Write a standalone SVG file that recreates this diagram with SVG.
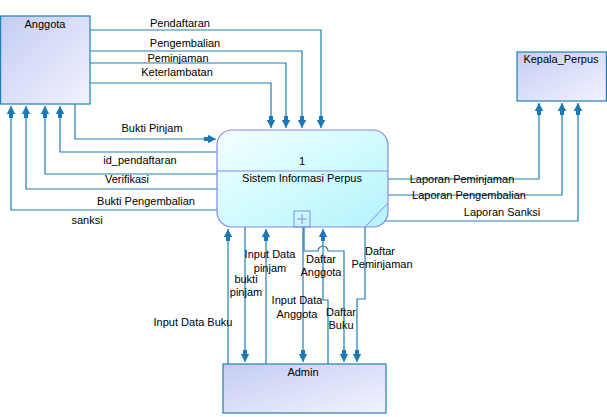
<svg xmlns="http://www.w3.org/2000/svg" width="607" height="417" viewBox="0 0 607 417">
<defs>
<linearGradient id="ent" x1="0" y1="0" x2="1" y2="1">
<stop offset="0" stop-color="#c4ccf2"/>
<stop offset="1" stop-color="#f2f3ff"/>
</linearGradient>
<linearGradient id="proc" x1="0" y1="0" x2="1" y2="1">
<stop offset="0" stop-color="#f4feff"/>
<stop offset="0.5" stop-color="#d2fbff"/>
<stop offset="1" stop-color="#b4f3fb"/>
</linearGradient>
<marker id="arr" viewBox="0 -5 12 10" refX="12" refY="0" markerWidth="12" markerHeight="10" markerUnits="userSpaceOnUse" orient="auto">
<path d="M0,-2 L4,-2 L4,-4.2 L12,0 L4,4.2 L4,2 L0,2 Z" fill="#1a78b4"/>
</marker>
</defs>
<style>
.ent{fill:url(#ent);stroke:#1f80b4;stroke-width:1.2}
.c{fill:none;stroke:#1f7fb2;stroke-width:1.2}
.a{marker-end:url(#arr)}
text{font-family:"Liberation Sans",Arial,sans-serif;font-size:11px;fill:#000;text-anchor:middle}
</style>
<rect width="607" height="417" fill="#fff"/>
<g id="connectors">
<path class="c a" d="M90,30 H321 V128"/>
<path class="c a" d="M90,51 H302 V128"/>
<path class="c a" d="M90,63 H286 V128"/>
<path class="c a" d="M90,83 H271 V128"/>
<path class="c a" d="M75,104 V139 H216"/>
<path class="c a" d="M217,152 H60 V106"/>
<path class="c a" d="M217,174 H45 V106"/>
<path class="c a" d="M217,189 H26 V106"/>
<path class="c a" d="M217,210 H11 V106"/>
<path class="c a" d="M388,179 H539 V103"/>
<path class="c a" d="M388,195 H562 V103"/>
<path class="c a" d="M385,221 H578 V103"/>
<path class="c a" d="M228,364 V229"/>
<path class="c a" d="M245,227 V362"/>
<path class="c a" d="M266,364 V229"/>
<path class="c a" d="M303,227 V362"/>
<path class="c a" d="M328,364 V300 H323 V229"/>
<path class="c a" d="M304,227 V251 H318 A5,5 0 0 1 328,251 H344 V362"/>
<path class="c a" d="M365,227 V299 H357 V362"/>
<text x="180" y="27">Pendaftaran</text>
<text x="185" y="47">Pengembalian</text>
<text x="178" y="62">Peminjaman</text>
<text x="177" y="76">Keterlambatan</text>
<text x="152" y="132">Bukti Pinjam</text>
<text x="140" y="164">id_pendaftaran</text>
<text x="127" y="183">Verifikasi</text>
<text x="146" y="205">Bukti Pengembalian</text>
<text x="87" y="224">sanksi</text>
<text x="462" y="183">Laporan Peminjaman</text>
<text x="469" y="199">Laporan Pengembalian</text>
<text x="502" y="216">Laporan Sanksi</text>
<text x="193" y="326">Input Data Buku</text>
<text x="246" y="283">bukti</text>
<text x="246" y="296">pinjam</text>
<text x="270" y="258">Input Data</text>
<text x="270" y="272">pinjam</text>
<text x="321" y="263">Daftar</text>
<text x="321" y="276">Anggota</text>
<text x="297" y="304">Input Data</text>
<text x="297" y="318">Anggota</text>
<text x="341" y="316">Daftar</text>
<text x="341" y="329">Buku</text>
<text x="380" y="255">Daftar</text>
<text x="382" y="268">Peminjaman</text>
</g>
<g id="anggota">
<rect class="ent" x="0.6" y="16" width="89.4" height="88"/>
<text x="45" y="28">Anggota</text>
</g>
<g id="kepala_perpus">
<rect class="ent" x="517" y="52" width="89.4" height="49"/>
<text x="561" y="63">Kepala_Perpus</text>
</g>
<g id="admin">
<rect class="ent" x="223" y="364" width="163" height="49"/>
<text x="303" y="376">Admin</text>
</g>
<g id="sistem">
<rect x="217" y="130" width="171" height="97" rx="15" ry="15" fill="url(#proc)" stroke="#8a86e6" stroke-width="1.2"/>
<line x1="217" y1="171" x2="388" y2="171" stroke="#8a86e6" stroke-width="1"/>
<line x1="388" y1="203" x2="365" y2="227" stroke="#8a86e6" stroke-width="1"/>
<rect x="294" y="211" width="16" height="16" fill="none" stroke="#8a86e6" stroke-width="1"/>
<path d="M297,219 H307 M302,214 V224" stroke="#8a86e6" stroke-width="1"/>
<text x="302" y="165">1</text>
<text x="302" y="182">Sistem Informasi Perpus</text>
</g>
</svg>
